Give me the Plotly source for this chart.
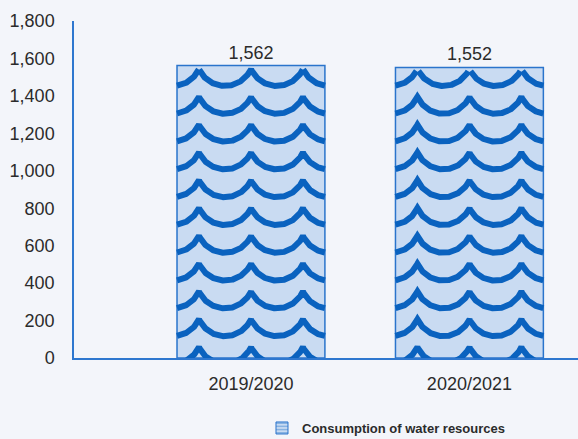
import numpy as np
import plotly.graph_objects as go

# ---- data ----
categories = ["2019/2020", "2020/2021"]
values = [1562, 1552]
series_name = "Consumption of water resources"
y_ticks = [0, 200, 400, 600, 800, 1000, 1200, 1400, 1600, 1800]
y_ticklabels = ["0", "200", "400", "600", "800", "1,000", "1,200", "1,400", "1,600", "1,800"]

# ---- style ----
W, H = 578, 439
M_L, M_R, M_T, M_B = 74, 0, 21, 81
BAR_W = 0.677
X_RANGE = [-0.81, 1.497]
Y_RANGE = [0, 1800]
FILL = "#C9DBF2"
WAVE = "#0A62BF"
EDGE = "#2A74CC"
AXIS = "#2E77CF"
TXT = "#2B2B2B"
BG = "#F3F5FA"
FONT = "Liberation Sans, Arial, sans-serif"

# wave geometry in pixels
WAVE_PERIOD_PX = 52.0
WAVE_DEPTH_PX = 17.0
WAVE_ROW_PX = 27.8
WAVE_FIRST_PX = 11.0
WAVE_LW = 6
TOP_CLIP_PX = 3.5

plot_w = W - M_L - M_R
plot_h = H - M_T - M_B
px_per_x = plot_w / (X_RANGE[1] - X_RANGE[0])
px_per_y = plot_h / (Y_RANGE[1] - Y_RANGE[0])

fig = go.Figure()

x_pos = list(range(len(categories)))
fig.add_trace(go.Bar(
    x=x_pos, y=values, width=BAR_W,
    marker=dict(color=FILL, line=dict(color=EDGE, width=1.5)),
    text=[f"{v:,}" for v in values], textposition="outside",
    textfont=dict(size=18, color=TXT, family=FONT),
    cliponaxis=False, showlegend=False, hoverinfo="skip",
))

# wave pattern drawn as lines inside each bar (derived from bar positions/values)
h = WAVE_PERIOD_PX / 2
A = WAVE_DEPTH_PX
R = (h * h + A * A) / (2 * A)
base_off = np.sqrt(R * R - h * h)
for xi, v in zip(x_pos, values):
    xs_px = np.linspace(-BAR_W / 2 * px_per_x, BAR_W / 2 * px_per_x, 600)
    frac = (xs_px / WAVE_PERIOD_PX) - np.floor(xs_px / WAVE_PERIOD_PX)
    u = (2 * frac - 1) * h
    sag = np.sqrt(np.maximum(R * R - u * u, 0)) - base_off  # 0 at cusps, A at middle
    xs = xi + xs_px / px_per_x
    limit = v - TOP_CLIP_PX / px_per_y
    all_x, all_y = [], []
    k = 0
    while True:
        cusp_px = WAVE_FIRST_PX + k * WAVE_ROW_PX
        cusp_val = cusp_px / px_per_y
        trough_val = (cusp_px - A) / px_per_y
        if trough_val > limit:
            break
        ys = cusp_val - sag / px_per_y
        ys = np.where(ys <= limit, ys, np.nan)
        for a, b in zip(xs, ys):
            all_x.append(a)
            all_y.append(None if np.isnan(b) else b)
        all_x.append(None)
        all_y.append(None)
        k += 1
    fig.add_trace(go.Scatter(
        x=all_x, y=all_y, mode="lines",
        line=dict(color=WAVE, width=WAVE_LW),
        showlegend=False, hoverinfo="skip", connectgaps=False,
    ))

# legend entry
fig.add_trace(go.Bar(
    x=[None], y=[None], name=series_name,
    marker=dict(color=FILL, line=dict(color=EDGE, width=1),
                pattern=dict(shape="-", fgcolor=WAVE, size=4, solidity=0.35)),
))

fig.update_layout(
    width=W, height=H,
    margin=dict(l=M_L, r=M_R, t=M_T, b=M_B, autoexpand=False),
    paper_bgcolor=BG, plot_bgcolor="rgba(0,0,0,0)",
    font=dict(family=FONT, color=TXT, size=18),
    bargap=0.3,
    xaxis=dict(range=X_RANGE, tickvals=x_pos, ticktext=categories,
               showgrid=False, zeroline=False, showline=True,
               linecolor=AXIS, linewidth=1.5,
               ticks="outside", ticklen=9, tickcolor="rgba(0,0,0,0)",
               tickfont=dict(size=18, color=TXT)),
    yaxis=dict(range=Y_RANGE, tickvals=y_ticks, ticktext=y_ticklabels,
               showgrid=False, zeroline=False, showline=True,
               linecolor=AXIS, linewidth=1.5,
               ticks="outside", ticklen=14, tickcolor="rgba(0,0,0,0)",
               tickfont=dict(size=18, color=TXT)),
    legend=dict(orientation="h", x=0.373, xanchor="left",
                y=0.025, yref="container", yanchor="middle",
                font=dict(size=13, color=TXT, family=FONT, weight="bold"),
                bgcolor="rgba(0,0,0,0)"),
)

fig.write_html("out.html")
